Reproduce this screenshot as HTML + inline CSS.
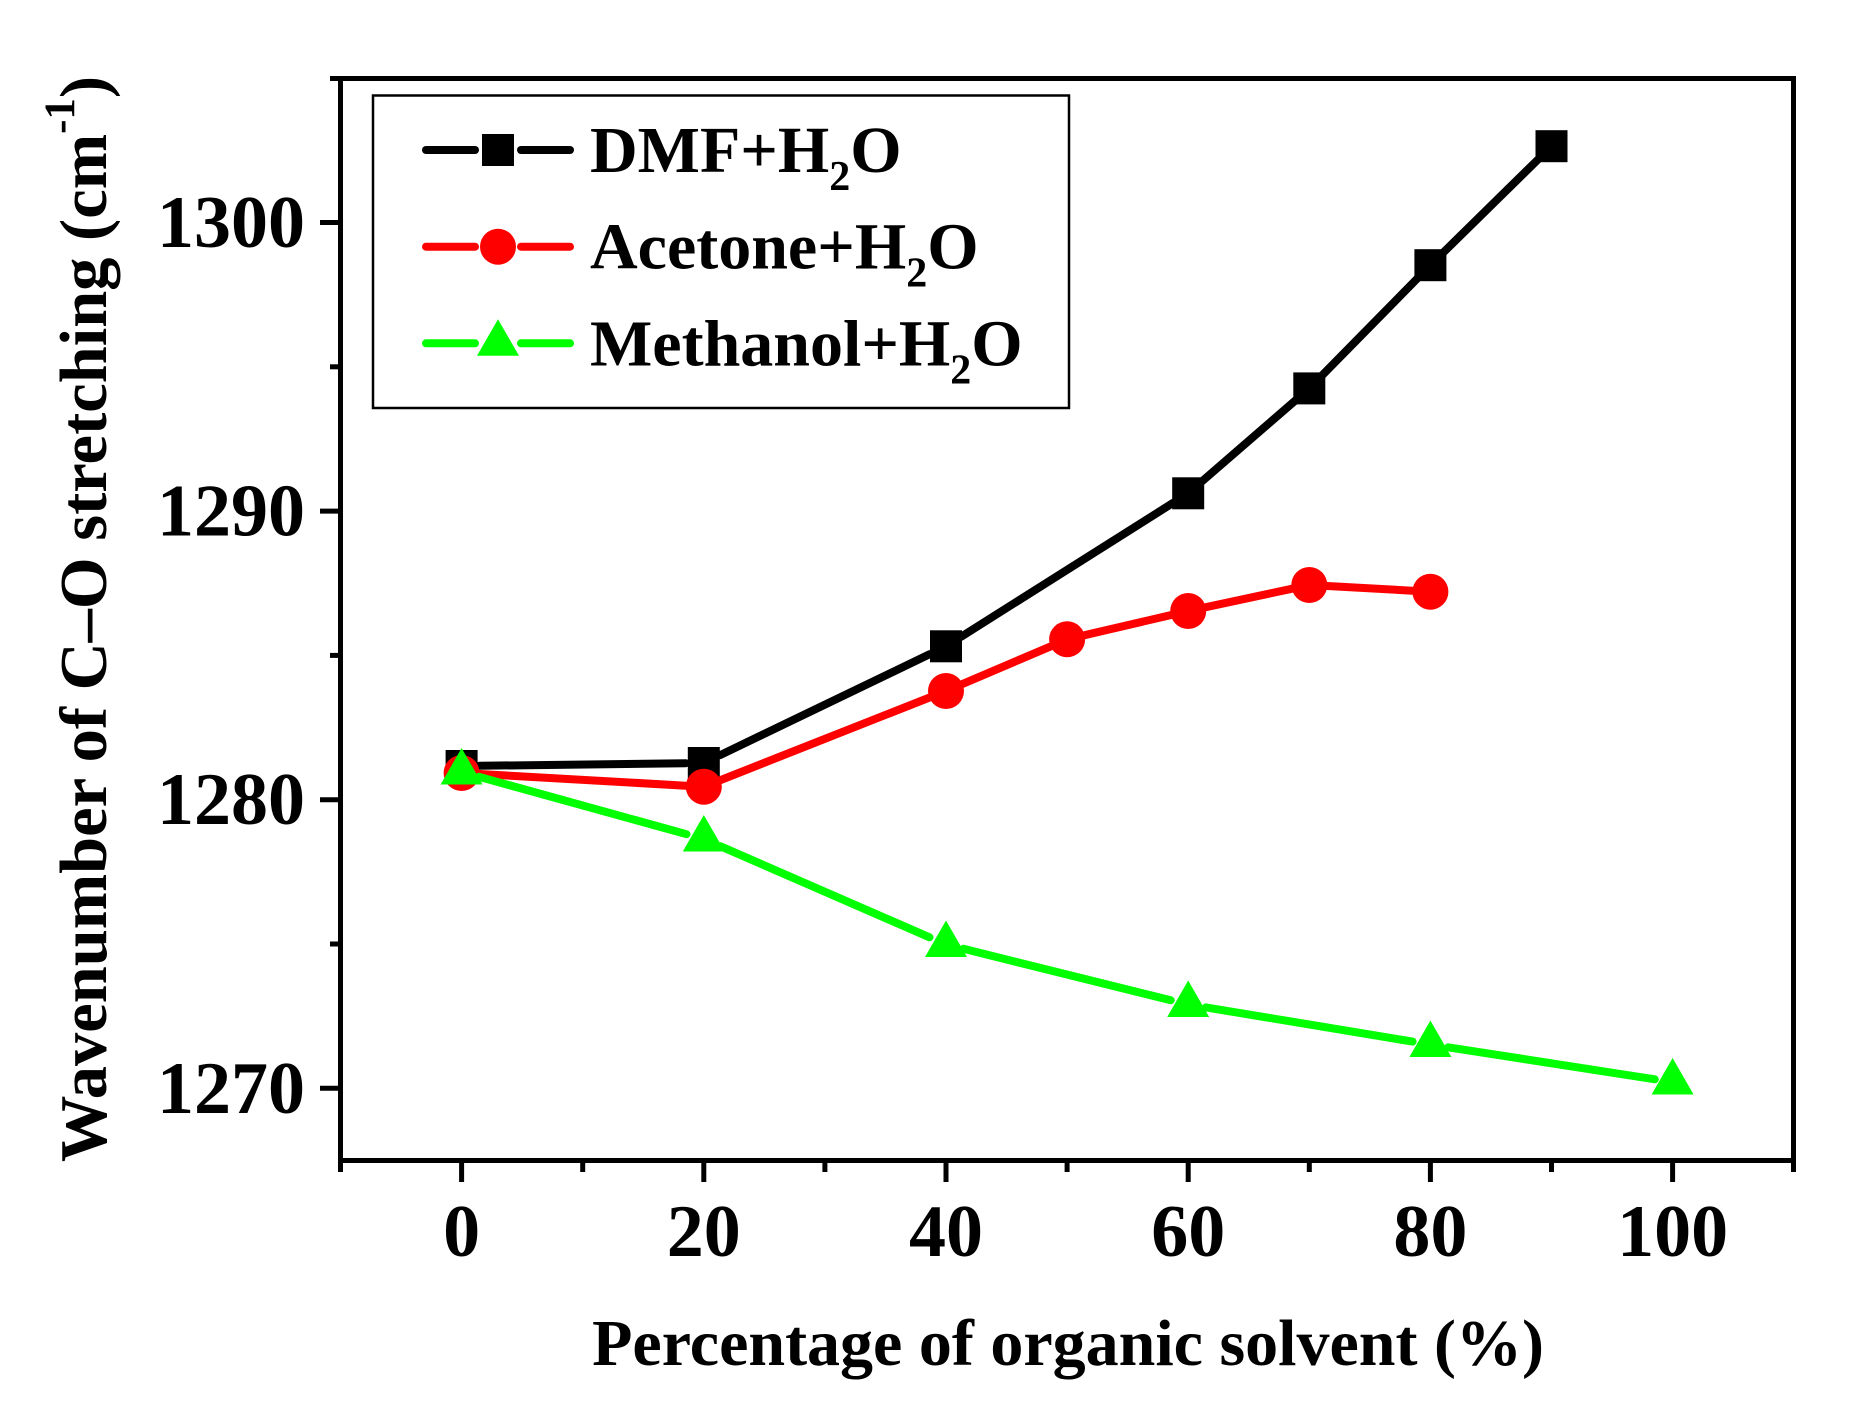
<!DOCTYPE html>
<html>
<head>
<meta charset="utf-8">
<style>
html,body{margin:0;padding:0;background:#fff;}
svg{display:block;}
text{font-family:"Liberation Serif","Times New Roman",serif;font-weight:bold;fill:#000;}
</style>
</head>
<body>
<svg width="1861" height="1408" viewBox="0 0 1861 1408" xmlns="http://www.w3.org/2000/svg">
<rect x="0" y="0" width="1861" height="1408" fill="#fff"/>

<!-- Frame -->
<rect x="340.5" y="78.5" width="1453" height="1082" fill="none" stroke="#000" stroke-width="5"/>

<!-- Y ticks -->
<g stroke="#000" stroke-width="5">
  <line x1="320" y1="222.5" x2="341" y2="222.5"/>
  <line x1="320" y1="511.1" x2="341" y2="511.1"/>
  <line x1="320" y1="799.7" x2="341" y2="799.7"/>
  <line x1="320" y1="1088.3" x2="341" y2="1088.3"/>
  <line x1="330" y1="78.5" x2="341" y2="78.5"/>
  <line x1="330" y1="366.8" x2="341" y2="366.8"/>
  <line x1="330" y1="655.4" x2="341" y2="655.4"/>
  <line x1="330" y1="944" x2="341" y2="944"/>
</g>
<!-- X ticks -->
<g stroke="#000" stroke-width="5">
  <line x1="461.6" y1="1160" x2="461.6" y2="1182"/>
  <line x1="703.8" y1="1160" x2="703.8" y2="1182"/>
  <line x1="946" y1="1160" x2="946" y2="1182"/>
  <line x1="1188.2" y1="1160" x2="1188.2" y2="1182"/>
  <line x1="1430.4" y1="1160" x2="1430.4" y2="1182"/>
  <line x1="1672.6" y1="1160" x2="1672.6" y2="1182"/>
  <line x1="340.5" y1="1160" x2="340.5" y2="1172"/>
  <line x1="582.7" y1="1160" x2="582.7" y2="1172"/>
  <line x1="824.9" y1="1160" x2="824.9" y2="1172"/>
  <line x1="1067.1" y1="1160" x2="1067.1" y2="1172"/>
  <line x1="1309.3" y1="1160" x2="1309.3" y2="1172"/>
  <line x1="1551.5" y1="1160" x2="1551.5" y2="1172"/>
  <line x1="1793.5" y1="1160" x2="1793.5" y2="1172"/>
</g>

<!-- Y tick labels -->
<g font-size="74" text-anchor="end">
  <text x="305" y="247">1300</text>
  <text x="305" y="535.6">1290</text>
  <text x="305" y="824.2">1280</text>
  <text x="305" y="1112.8">1270</text>
</g>
<!-- X tick labels -->
<g font-size="74" text-anchor="middle">
  <text x="461.6" y="1256">0</text>
  <text x="703.8" y="1256">20</text>
  <text x="946" y="1256">40</text>
  <text x="1188.2" y="1256">60</text>
  <text x="1430.4" y="1256">80</text>
  <text x="1672.6" y="1256">100</text>
</g>

<!-- Axis titles -->
<text x="1068" y="1365" font-size="66" text-anchor="middle">Percentage of organic solvent (%)</text>
<text transform="translate(106,619) rotate(-90)" x="0" y="0" font-size="66.5" text-anchor="middle">Wavenumber of C–O stretching (cm<tspan font-size="43" dy="-32">-1</tspan><tspan dy="32">)</tspan></text>

<!-- DMF series -->
<g stroke="#000" stroke-width="8" stroke-linecap="round" fill="none">
  <line x1="479.6" y1="765.8" x2="685.8" y2="763.2"/>
  <line x1="720.0" y1="755.2" x2="929.8" y2="654.1"/>
  <line x1="961.2" y1="636.7" x2="1173.0" y2="502.9"/>
  <line x1="1201.8" y1="481.5" x2="1295.7" y2="400.2"/>
  <line x1="1321.9" y1="375.6" x2="1417.8" y2="278.0"/>
  <line x1="1443.2" y1="252.6" x2="1538.7" y2="158.8"/>
</g>
<g fill="#000">
  <rect x="445.6" y="750" width="32" height="32"/>
  <rect x="687.8" y="747" width="32" height="32"/>
  <rect x="930" y="630.3" width="32" height="32"/>
  <rect x="1172.2" y="477.3" width="32" height="32"/>
  <rect x="1293.3" y="372.4" width="32" height="32"/>
  <rect x="1414.4" y="249.2" width="32" height="32"/>
  <rect x="1535.5" y="130.2" width="32" height="32"/>
</g>

<!-- Acetone series -->
<g stroke="#ff0000" stroke-width="8" stroke-linecap="round" fill="none">
  <line x1="479.6" y1="774.0" x2="685.8" y2="785.7"/>
  <line x1="720.5" y1="780.1" x2="929.3" y2="697.6"/>
  <line x1="962.6" y1="683.9" x2="1050.6" y2="646.4"/>
  <line x1="1084.6" y1="635.2" x2="1170.7" y2="615.1"/>
  <line x1="1205.8" y1="607.2" x2="1291.7" y2="588.8"/>
  <line x1="1327.3" y1="586.0" x2="1412.4" y2="590.7"/>
</g>
<g fill="#ff0000">
  <circle cx="461.6" cy="773" r="18"/>
  <circle cx="703.8" cy="786.7" r="18"/>
  <circle cx="946" cy="691" r="18"/>
  <circle cx="1067.1" cy="639.3" r="18"/>
  <circle cx="1188.2" cy="611" r="18"/>
  <circle cx="1309.3" cy="585" r="18"/>
  <circle cx="1430.4" cy="591.7" r="18"/>
</g>

<!-- Methanol series -->
<g stroke="#00ff00" stroke-width="8" stroke-linecap="round" fill="none">
  <line x1="479.0" y1="776.8" x2="686.5" y2="834.2"/>
  <line x1="720.3" y1="846.2" x2="929.5" y2="937.3"/>
  <line x1="963.5" y1="948.8" x2="1170.7" y2="1000.2"/>
  <line x1="1206.0" y1="1007.4" x2="1412.6" y2="1041.6"/>
  <line x1="1448.2" y1="1047.3" x2="1654.8" y2="1079.3"/>
</g>
<g fill="#00ff00">
  <polygon points="461.6,748 440.6,784.5 482.6,784.5"/>
  <polygon points="703.8,815 682.8,851.5 724.8,851.5"/>
  <polygon points="946,920.5 925,957 967,957"/>
  <polygon points="1188.2,980.5 1167.2,1017 1209.2,1017"/>
  <polygon points="1430.4,1020.5 1409.4,1057 1451.4,1057"/>
  <polygon points="1672.6,1058 1651.6,1094.5 1693.6,1094.5"/>
</g>

<!-- Legend -->
<rect x="373" y="95.5" width="696" height="312.5" fill="#fff" stroke="#000" stroke-width="2.5"/>
<g stroke-width="8" stroke-linecap="round">
  <line x1="426" y1="150" x2="475" y2="150" stroke="#000"/>
  <line x1="521" y1="150" x2="570" y2="150" stroke="#000"/>
  <line x1="426" y1="246.7" x2="475" y2="246.7" stroke="#ff0000"/>
  <line x1="521" y1="246.7" x2="570" y2="246.7" stroke="#ff0000"/>
  <line x1="426" y1="343.3" x2="475" y2="343.3" stroke="#00ff00"/>
  <line x1="521" y1="343.3" x2="570" y2="343.3" stroke="#00ff00"/>
</g>
<rect x="482" y="134" width="32" height="32" fill="#000"/>
<circle cx="498" cy="246.7" r="18" fill="#ff0000"/>
<polygon points="498,319.3 477,355.8 519,355.8" fill="#00ff00"/>
<g font-size="66">
  <text x="590" y="172">DMF+H<tspan font-size="42" dy="18">2</tspan><tspan dy="-18">O</tspan></text>
  <text x="590" y="268.7">Acetone+H<tspan font-size="42" dy="18">2</tspan><tspan dy="-18">O</tspan></text>
  <text x="590" y="365.3">Methanol+H<tspan font-size="42" dy="18">2</tspan><tspan dy="-18">O</tspan></text>
</g>
</svg>
</body>
</html>
